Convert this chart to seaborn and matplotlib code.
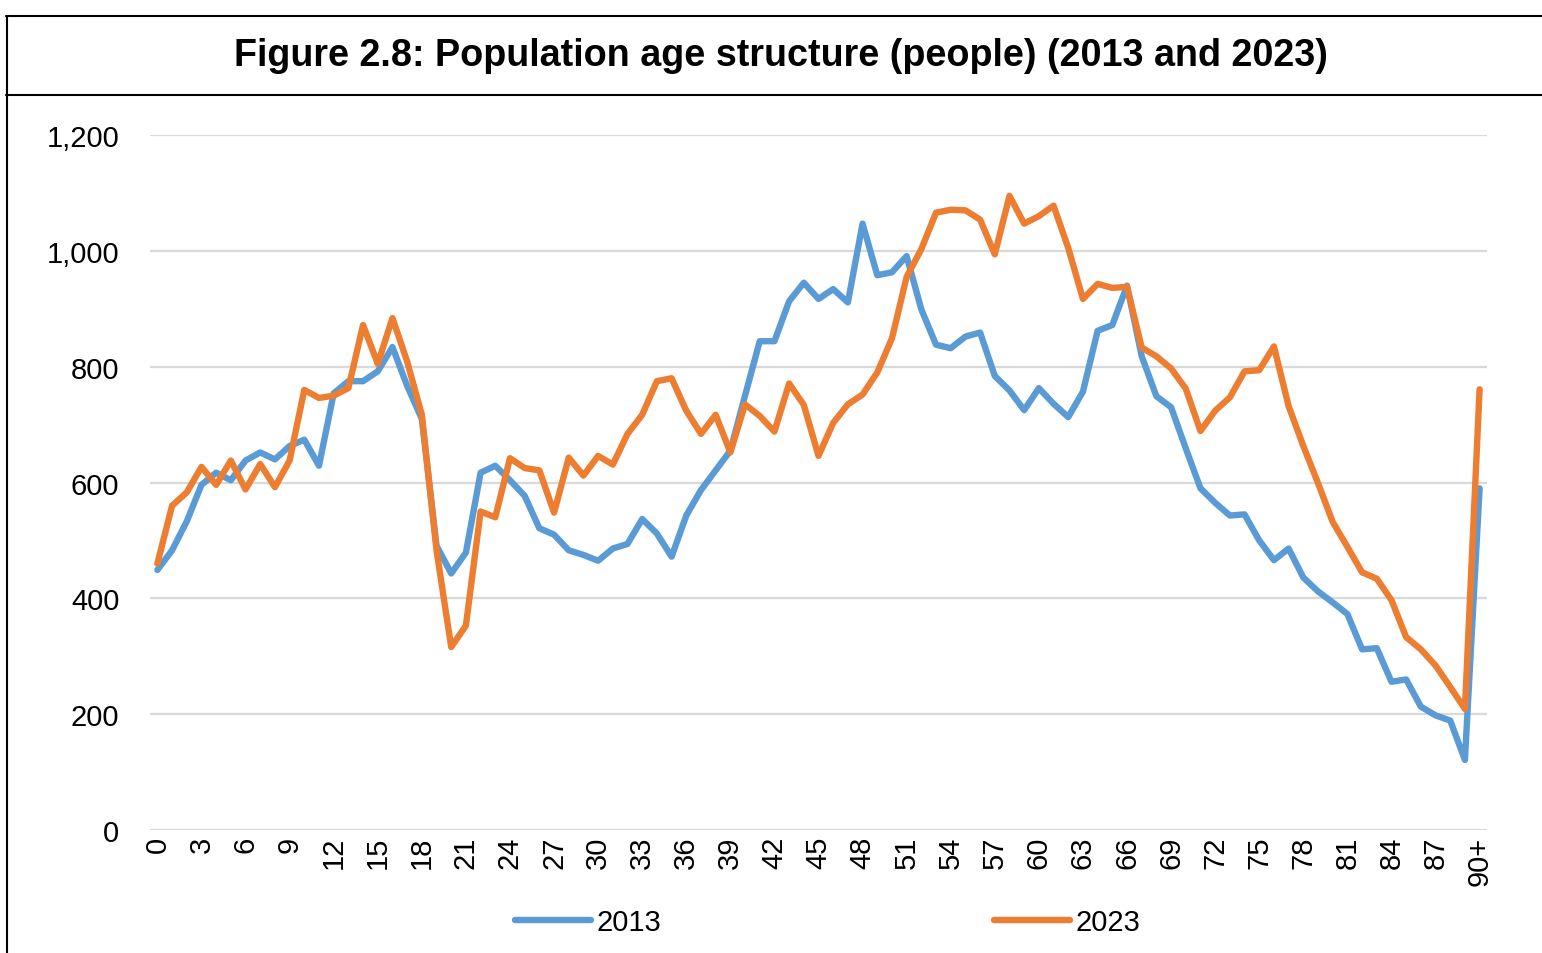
import pandas as pd
import matplotlib.pyplot as plt
import seaborn as sns
from matplotlib.lines import Line2D
from matplotlib.ticker import FuncFormatter

# ages 0..89 and 90+
ages = [str(a) for a in range(90)] + ['90+']

pop_2013 = [449, 483, 533, 596, 617, 604, 638, 652, 640, 663,
            674, 629, 754, 775, 775, 792, 834, 767, 710, 491,
            443, 479, 617, 629, 604, 577, 521, 510, 483, 475,
            465, 486, 494, 537, 512, 472, 543, 587, 621, 655,
            750, 844, 844, 913, 945, 917, 934, 911, 1047, 958,
            963, 991, 899, 838, 832, 852, 859, 784, 759, 725,
            763, 736, 713, 757, 862, 872, 940, 818, 749, 730,
            659, 590, 565, 543, 545, 500, 466, 486, 436, 412,
            393, 373, 312, 314, 256, 260, 213, 198, 189, 121,
            590]

pop_2023 = [460, 560, 583, 627, 596, 638, 588, 632, 592, 638,
            760, 746, 750, 763, 872, 805, 884, 809, 717, 483,
            316, 353, 550, 540, 642, 625, 621, 548, 643, 612,
            646, 631, 684, 717, 775, 780, 724, 684, 717, 652,
            735, 715, 688, 771, 734, 646, 703, 735, 752, 790,
            849, 955, 1003, 1066, 1071, 1070, 1054, 994, 1095, 1047,
            1060, 1078, 1005, 917, 943, 936, 938, 833, 818, 797,
            762, 689, 724, 747, 792, 794, 835, 732, 663, 599,
            532, 489, 445, 434, 397, 333, 312, 284, 247, 209,
            761]

years = ['2013', '2023']
colors = ['#5B9BD5', '#ED7D31']

df = pd.DataFrame({
    'pos': list(range(len(ages))) * 2,
    'value': pop_2013 + pop_2023,
    'year': [years[0]] * len(ages) + [years[1]] * len(ages),
})

sns.set_style('white')
plt.rcParams['font.family'] = ['Liberation Sans Narrow', 'Liberation Sans', 'DejaVu Sans']
plt.rcParams['text.color'] = 'black'

fig = plt.figure(figsize=(15.42, 9.54), dpi=100)
ax = fig.add_axes([0.0973, 0.1289, 0.867, 0.7285])

sns.lineplot(data=df, x='pos', y='value', hue='year', palette=colors,
             linewidth=4.6, ax=ax, legend=False, zorder=3)

ax.set_xlim(-0.5, len(ages) - 0.5)
ax.set_ylim(0, 1200)
ax.set_yticks(range(0, 1201, 200))
ax.yaxis.set_major_formatter(FuncFormatter(lambda v, p: f'{int(v):,}'))
ticks = list(range(0, 90, 3)) + [90]
ax.set_xticks(ticks)
ax.set_xticklabels([ages[t] for t in ticks], rotation=90)
ax.tick_params(axis='both', length=0, labelsize=21, colors='black')
ax.tick_params(axis='x', pad=4)
ax.tick_params(axis='y', pad=22)
ax.grid(axis='y', color='#D9D9D9', linewidth=1.6)
ax.grid(axis='x', visible=False)
for s in ax.spines.values():
    s.set_visible(False)
ax.set_xlabel('')
ax.set_ylabel('')

# title and frame lines
fig.text(0.5065, 0.941, 'Figure 2.8: Population age structure (people) (2013 and 2023)',
         ha='center', va='center', fontsize=27.2, fontweight='bold', color='black',
         family=['Liberation Sans', 'DejaVu Sans'])
fig.add_artist(Line2D([0.004, 1.0], [0.982, 0.982], color='black', linewidth=1.5))
fig.add_artist(Line2D([0.004, 1.0], [0.899, 0.899], color='black', linewidth=1.5))
fig.add_artist(Line2D([0.0045, 0.0045], [0.0, 0.982], color='black', linewidth=1.5))

handles = [Line2D([0], [0], color=c, linewidth=4.6, solid_capstyle='round') for c in colors]
leg = fig.legend(handles, years, loc='center', bbox_to_anchor=(0.537, 0.032), ncol=2,
                 frameon=False, fontsize=21, handlelength=2.6, handletextpad=0.2,
                 columnspacing=11.4)
for t in leg.get_texts():
    t.set_color('black')

fig.savefig('out.png', dpi=100)
